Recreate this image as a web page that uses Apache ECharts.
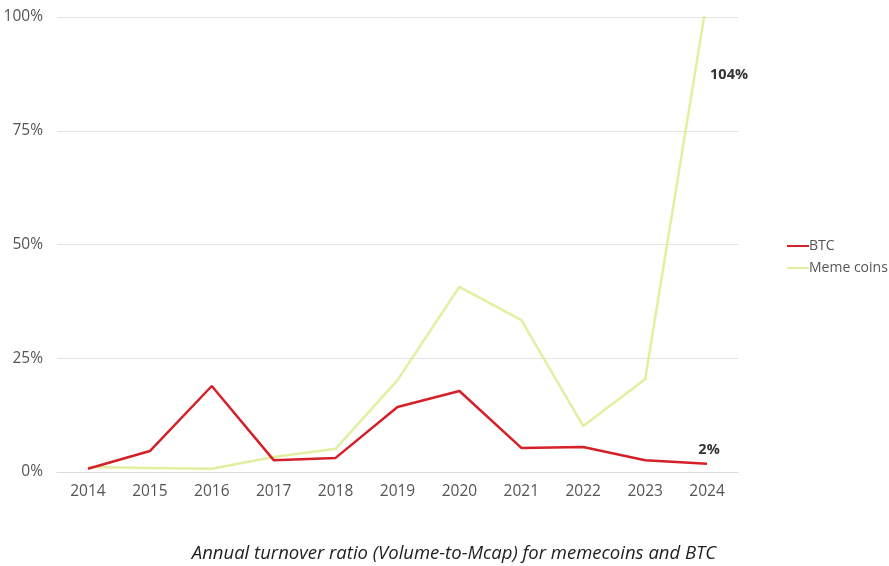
<!DOCTYPE html>
<html><head><meta charset="utf-8">
<script src="https://cdn.jsdelivr.net/npm/echarts@6/dist/echarts.min.js"></script>
<style>html,body{margin:0;padding:0;background:#fff}#c{width:889px;height:566px}</style>
</head><body><div id="c"></div>
<script>
const years = ['2014','2015','2016','2017','2018','2019','2020','2021','2022','2023','2024'];
const btc = [0.7, 4.6, 18.9, 2.6, 3.1, 14.3, 17.8, 5.3, 5.5, 2.6, 1.8];
const meme = [1.1, 0.9, 0.7, 3.3, 5.1, 20.2, 40.7, 33.4, 10.1, 20.4, 104];
const yTicks = [0, 25, 50, 75, 100];
const title = 'Annual turnover ratio (Volume-to-Mcap) for memecoins and BTC';
const FONT = '"Open Sans", sans-serif';

const chart = echarts.init(document.getElementById('c'));
const last = years.length - 1;
const endLabel = {fontFamily: FONT, fontWeight: 'bold', fontSize: 14.5, color: '#333'};
chart.setOption({
  animation: false,
  title: {
    text: title, left: 449, top: 539, textAlign: 'center',
    textStyle: {fontFamily: FONT, fontStyle: 'italic', fontWeight: 'normal', fontSize: 18.5, color: '#222'}
  },
  legend: {
    orient: 'vertical', left: 782, top: 234, itemGap: 8,
    itemWidth: 22, itemHeight: 10, icon: 'path://M0,4L22,4L22,6L0,6Z',
    textStyle: {fontFamily: FONT, fontSize: 14, color: '#555', padding: [0,0,0,-5]},
    data: ['BTC', 'Meme coins']
  },
  grid: {left: 57, right: 151, top: 17, bottom: 94},
  xAxis: {
    type: 'category', data: years, boundaryGap: true,
    axisLine: {lineStyle: {color: '#ddd'}}, axisTick: {show: false},
    axisLabel: {fontFamily: FONT, fontSize: 15.5, color: '#555', margin: 12}
  },
  yAxis: {
    type: 'value', min: yTicks[0], max: yTicks[yTicks.length-1], interval: 25,
    axisLine: {show: false}, axisTick: {show: false},
    splitLine: {lineStyle: {color: '#e3e3e3'}},
    axisLabel: {fontFamily: FONT, fontSize: 15.5, color: '#555', margin: 14, formatter: v => v + '%'}
  },
  series: [
    {
      name: 'BTC', type: 'line', data: btc,
      showSymbol: false, symbol: 'none', lineStyle: {color: '#d42029', width: 2.5}, itemStyle: {color: '#d42029'}, z: 3,
      markPoint: {
        symbol: 'circle', symbolSize: 0,
        data: [{coord: [years[last], btc[last]], value: btc[last]}],
        label: Object.assign({show: true, position: 'top', offset: [2, -1], formatter: p => Math.round(p.value) + '%'}, endLabel)
      }
    },
    {
      name: 'Meme coins', type: 'line', clip: true,
      data: meme,
      showSymbol: false, symbol: 'none', lineStyle: {color: '#e2efa0', width: 2.5}, itemStyle: {color: '#e2efa0'}, z: 2,
      markPoint: {
        symbol: 'circle', symbolSize: 0,
        data: [{coord: [years[last], 100], value: meme[last]}],
        label: Object.assign({show: true, position: 'right', offset: [-2, 58], formatter: p => Math.round(p.value) + '%'}, endLabel)
      }
    }
  ]
});
</script></body></html>
